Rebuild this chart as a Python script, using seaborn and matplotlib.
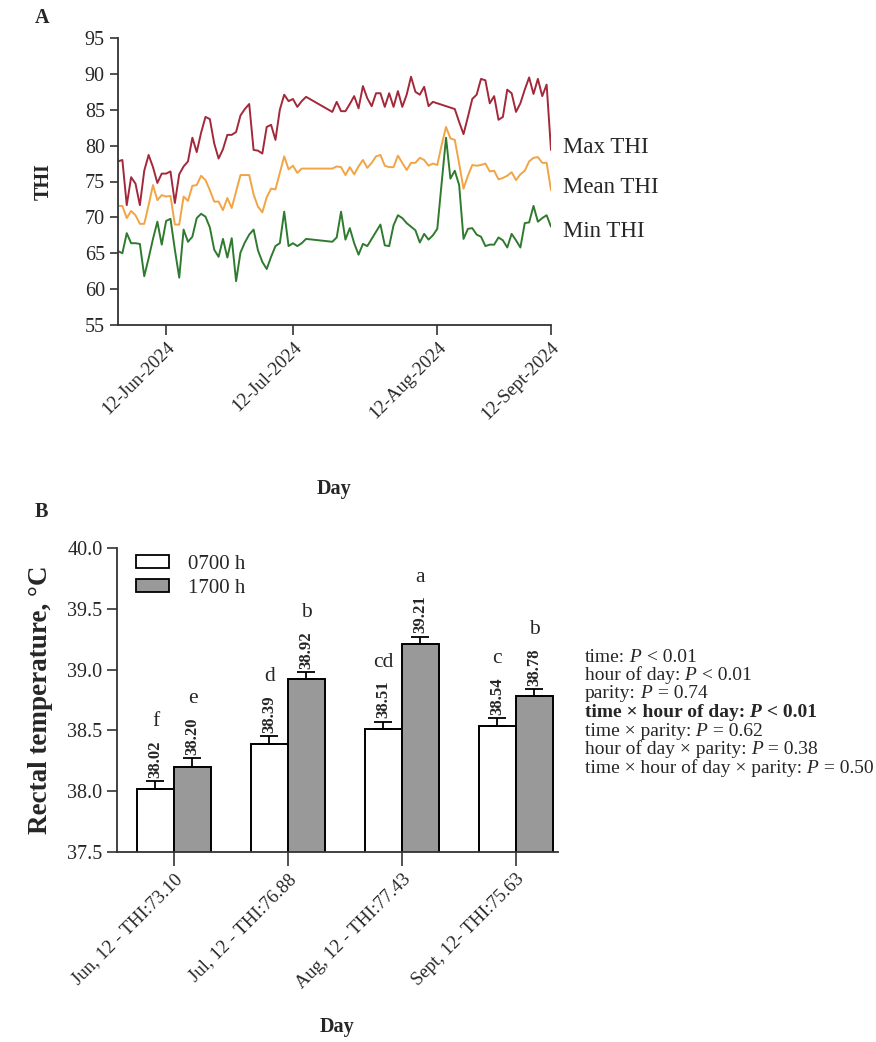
import numpy as np
import pandas as pd
import matplotlib
matplotlib.use("Agg")
import matplotlib.pyplot as plt
from matplotlib.patches import Patch
from matplotlib.offsetbox import TextArea, HPacker, AnchoredOffsetbox
import matplotlib.transforms as mtransforms
import seaborn as sns

sns.set_theme(style="ticks")
plt.rcParams["font.family"] = ["Liberation Serif", "DejaVu Serif"]

# ---------------- Panel A: daily THI ----------------
# recording days (index); days 44-48 have no record
days = list(range(0, 44)) + list(range(49, 100))
max_thi = [77.8, 78.0, 71.7, 75.6, 74.7, 71.7, 76.5, 78.7, 77.0, 74.8,
           76.1, 76.1, 76.4, 72.0, 76.0, 77.1, 77.8, 81.1, 79.1, 81.8,
           84.0, 83.7, 80.3, 78.2, 79.5, 81.5, 81.5, 81.9, 84.2, 85.1,
           85.8, 79.4, 79.3, 78.9, 82.6, 82.9, 80.8, 85.0, 87.1, 86.2,
           86.5, 85.4, 86.2, 86.8,
           84.7, 86.1, 84.8, 84.8, 85.8, 86.9, 85.2, 88.3, 86.6, 85.5,
           87.3, 87.3, 85.4, 87.3, 85.4, 87.6, 85.4, 87.1, 89.6, 87.5,
           87.1, 88.2, 85.5, 86.1, 85.9, 85.7, 85.5, 85.3, 85.1, 83.3,
           81.6, 84.0, 86.5, 87.1, 89.3, 89.1, 85.9, 86.9, 83.6, 84.0,
           87.8, 87.3, 84.7, 85.9, 87.8, 89.5, 87.2, 89.3, 86.9, 88.5,
           79.4]
mean_thi = [71.6, 71.6, 69.9, 70.9, 70.3, 69.1, 69.1, 71.7, 74.5, 72.4,
            73.1, 72.9, 73.0, 69.0, 69.0, 72.9, 72.3, 74.4, 74.5, 75.8,
            75.2, 73.8, 72.2, 72.2, 71.0, 72.7, 71.3, 73.6, 75.9, 75.9,
            75.9, 73.2, 71.5, 70.7, 72.8, 74.0, 73.9, 76.2, 78.5, 76.7,
            77.2, 76.2, 76.8, 76.8,
            76.8, 77.1, 77.0, 75.9, 77.0, 76.0, 77.1, 78.0, 76.9, 77.6,
            78.5, 78.7, 77.2, 77.0, 77.0, 78.6, 77.6, 76.6, 77.6, 77.6,
            78.3, 78.0, 77.2, 77.5, 77.3, 80.1, 82.6, 81.0, 80.8, 77.5,
            74.0, 75.8, 77.3, 77.2, 77.3, 77.5, 76.4, 76.5, 75.3, 75.5,
            75.8, 76.3, 75.2, 76.0, 76.5, 77.8, 78.3, 78.4, 77.6, 77.6,
            73.8]
min_thi = [65.3, 65.0, 67.8, 66.4, 66.4, 66.3, 61.8, 64.3, 67.0, 69.4,
           66.2, 69.5, 69.8, 65.5, 61.6, 68.3, 66.6, 67.3, 69.9, 70.5,
           70.1, 68.6, 65.5, 64.5, 67.0, 64.4, 67.1, 61.1, 65.1, 66.5,
           67.6, 68.3, 65.4, 63.8, 62.8, 64.5, 66.0, 66.4, 70.8, 66.0,
           66.4, 66.0, 66.4, 67.0,
           66.6, 67.2, 70.8, 66.9, 68.5, 66.4, 64.8, 66.3, 66.0, 67.0,
           68.0, 69.0, 66.1, 66.0, 68.9, 70.3, 69.9, 69.2, 68.7, 68.2,
           66.5, 67.7, 66.9, 67.5, 68.4, 74.8, 81.1, 75.4, 76.5, 74.5,
           67.0, 68.4, 68.5, 67.6, 67.3, 66.0, 66.2, 66.2, 67.2, 66.8,
           65.8, 67.7, 66.8, 65.8, 69.2, 69.3, 71.6, 69.4, 69.9, 70.3,
           68.7]
series_names = ["Max THI", "Mean THI", "Min THI"]
series_colors = ["#A3283A", "#F2A445", "#2F7A2F"]
series_label_y = [79.8, 74.1, 68.0]
day_ticks = [11, 40, 73, 99]
day_tick_labels = ["12-Jun-2024", "12-Jul-2024", "12-Aug-2024", "12-Sept-2024"]

# ---------------- Panel B: rectal temperature ----------------
periods = ["Jun, 12 - THI:73.10", "Jul, 12 - THI:76.88",
           "Aug, 12 - THI:77.43", "Sept, 12- THI:75.63"]
hours = ["0700 h", "1700 h"]
temp_0700 = [38.02, 38.39, 38.51, 38.54]
temp_1700 = [38.20, 38.92, 39.21, 38.78]
se_0700 = [0.06, 0.06, 0.06, 0.06]
se_1700 = [0.07, 0.06, 0.06, 0.06]
letters_0700 = ["f", "d", "cd", "c"]
letters_1700 = ["e", "b", "a", "b"]
bar_colors = ["white", "#999999"]

effects = ["time", "hour of day", "parity", "time \u00d7 hour of day",
           "time \u00d7 parity", "hour of day \u00d7 parity",
           "time \u00d7 hour of day \u00d7 parity"]
p_relation = ["<", "<", "=", "<", "=", "=", "="]
p_values = ["0.01", "0.01", "0.74", "0.01", "0.62", "0.38", "0.50"]
p_bold = [False, False, False, True, False, False, False]

W, H = 876, 1042
fig = plt.figure(figsize=(W / 100, H / 100), dpi=100)

def fig_rect(x0, y0, x1, y1):
    return [x0 / W, 1 - y1 / H, (x1 - x0) / W, (y1 - y0) / H]

spine_color = "#333333"

# ---- Panel A ----
axA = fig.add_axes(fig_rect(118, 38, 551, 325))
df_thi = pd.DataFrame({
    "day": days * 3,
    "THI": max_thi + mean_thi + min_thi,
    "series": np.repeat(series_names, len(days)),
})
sns.lineplot(data=df_thi, x="day", y="THI", hue="series",
             palette=dict(zip(series_names, series_colors)),
             linewidth=1.4, legend=False, ax=axA)
axA.set_xlim(0, 99)
axA.set_ylim(55, 95)
axA.set_yticks(np.arange(55, 96, 5))
axA.set_xticks(day_ticks)
axA.set_xticklabels(day_tick_labels, rotation=45, ha="right",
                    rotation_mode="anchor", fontsize=13.5)
axA.tick_params(axis="y", labelsize=14.5, length=6, width=1.2, color=spine_color)
axA.tick_params(axis="x", length=7, width=1.2, color=spine_color, pad=3)
axA.set_xlabel("Day", fontsize=14.5, fontweight="bold", labelpad=40)
axA.set_ylabel("THI", fontsize=14.5, fontweight="bold", labelpad=22)
for s in ["top", "right"]:
    axA.spines[s].set_visible(False)
for s in ["left", "bottom"]:
    axA.spines[s].set_linewidth(1.3)
    axA.spines[s].set_color(spine_color)
label_tr = mtransforms.blended_transform_factory(axA.transAxes, axA.transData)
for name, yv in zip(series_names, series_label_y):
    axA.text(1.028, yv, name, transform=label_tr, fontsize=16.5,
             va="center", ha="left")

# ---- Panel B ----
axB = fig.add_axes(fig_rect(117, 548, 558, 852))
df_rt = pd.DataFrame({
    "period": periods * 2,
    "temp": temp_0700 + temp_1700,
    "hour": np.repeat(hours, len(periods)),
})
sns.barplot(data=df_rt, x="period", y="temp", hue="hour",
            palette=bar_colors, edgecolor="black", linewidth=1.4,
            width=0.65, errorbar=None, ax=axB)
axB.set_ylim(37.5, 40.0)
axB.set_xlim(-0.5, 3.37)
axB.set_yticks(np.arange(37.5, 40.01, 0.5))
axB.set_yticklabels([f"{v:.1f}" for v in np.arange(37.5, 40.01, 0.5)])
axB.tick_params(axis="y", labelsize=14.5, length=7, width=1.2, color=spine_color)
axB.tick_params(axis="x", labelsize=13.5, length=10, width=1.2, color=spine_color)
plt.setp(axB.get_xticklabels(), rotation=45, ha="right", rotation_mode="anchor")
axB.set_xlabel("Day", fontsize=14.5, fontweight="bold", labelpad=18)
axB.set_ylabel("Rectal temperature, \u00b0C", fontsize=19.5,
               fontweight="bold", labelpad=10)
for s in ["top", "right"]:
    axB.spines[s].set_visible(False)
for s in ["left", "bottom"]:
    axB.spines[s].set_linewidth(1.3)
    axB.spines[s].set_color(spine_color)

for container, vals, ses, lets in zip(axB.containers,
                                      [temp_0700, temp_1700],
                                      [se_0700, se_1700],
                                      [letters_0700, letters_1700]):
    for bar, v, s, let in zip(container, vals, ses, lets):
        xc = bar.get_x() + bar.get_width() / 2
        axB.errorbar(xc, v, yerr=[[0], [s]], fmt="none", ecolor="black",
                     elinewidth=1.3, capsize=6.5, capthick=1.3, zorder=3)
        axB.annotate(f"{v:.2f}", (xc, v + s), xytext=(0, 2.5),
                     textcoords="offset points", rotation=90, ha="center",
                     va="bottom", fontsize=12, fontweight="bold")
        axB.annotate(let, (xc, v + s), xytext=(0, 36),
                     textcoords="offset points", ha="center", va="bottom",
                     fontsize=15.5)

if axB.get_legend() is not None:
    axB.get_legend().remove()
handles = [Patch(facecolor=c, edgecolor="black", linewidth=1.3) for c in bar_colors]
axB.legend(handles, hours, loc="upper left", bbox_to_anchor=(0.0, 1.04),
           frameon=False, fontsize=15, handlelength=1.6, handleheight=0.6,
           handletextpad=0.9, labelspacing=0.25)

# statistics summary
line_y0 = 657
line_step = 18.5
for i, (eff, rel, pv, bold) in enumerate(zip(effects, p_relation, p_values, p_bold)):
    weight = "bold" if bold else "normal"
    props = dict(fontsize=14, fontweight=weight, family="Liberation Serif")
    parts = [
        TextArea(f"{eff}:", textprops=props),
        TextArea(" P", textprops=dict(props, fontstyle="italic")),
        TextArea(f" {rel} {pv}", textprops=props),
    ]
    row = HPacker(children=parts, align="baseline", pad=0, sep=0)
    box = AnchoredOffsetbox(loc="center left", child=row, pad=0, borderpad=0,
                            frameon=False,
                            bbox_to_anchor=(585 / W, 1 - (line_y0 + i * line_step) / H),
                            bbox_transform=fig.transFigure)
    fig.add_artist(box)

fig.text(35 / W, 1 - 18 / H, "A", fontsize=14.5, fontweight="bold",
         ha="left", va="center")
fig.text(35 / W, 1 - 512 / H, "B", fontsize=14.5, fontweight="bold",
         ha="left", va="center")

fig.savefig("out.png", dpi=100, facecolor="white")
